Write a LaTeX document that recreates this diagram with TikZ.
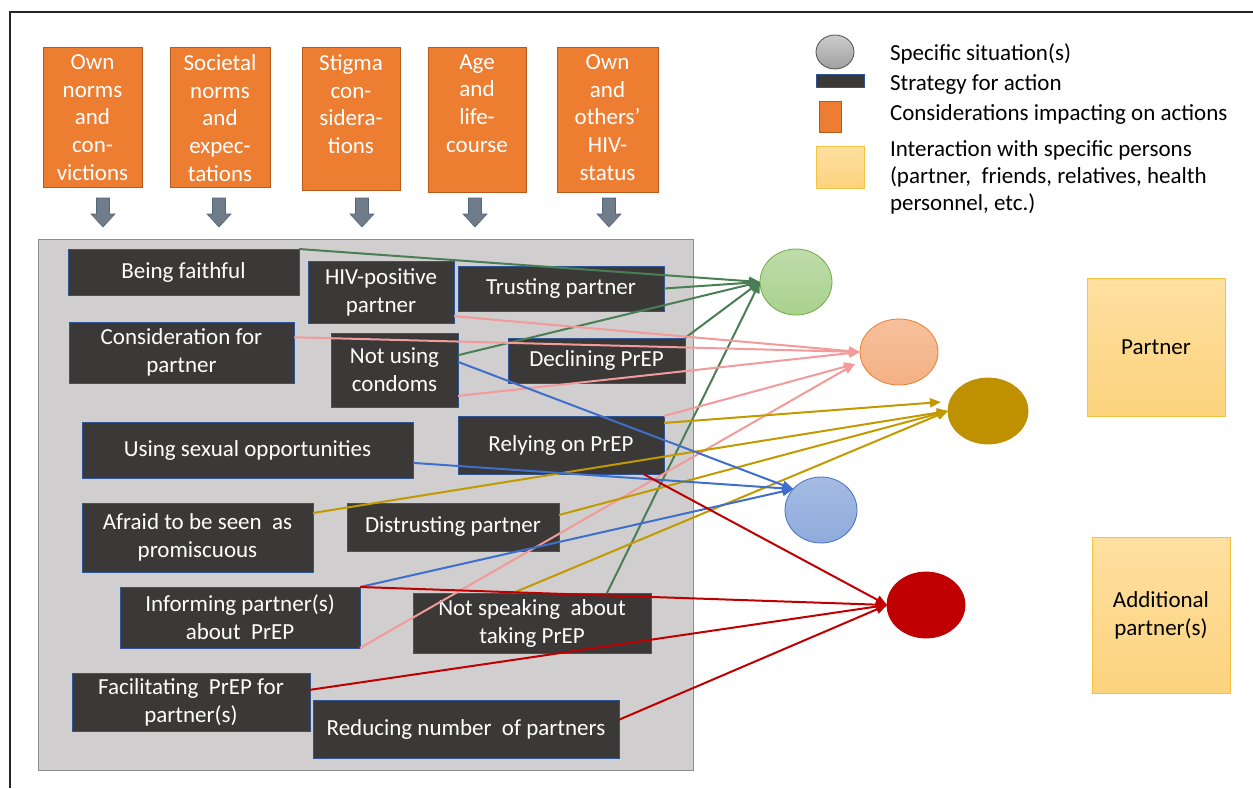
\documentclass[tikz,border=0pt]{standalone}
\usepackage{fontspec}
\setmainfont{Carlito}
\usetikzlibrary{arrows.meta,calc,shapes.geometric}
\definecolor{orng}{HTML}{ED7D31}
\definecolor{orngd}{HTML}{B85A1E}
\definecolor{dkbox}{HTML}{3B3838}
\definecolor{dkedge}{HTML}{2F5597}
\definecolor{panelc}{HTML}{D0CECE}
\definecolor{paneledge}{HTML}{8C8C8C}
\definecolor{cgreen}{HTML}{A9D18E}
\definecolor{cgreenE}{HTML}{70AD47}
\definecolor{csalmon}{HTML}{F4B183}
\definecolor{csalmonE}{HTML}{ED7D31}
\definecolor{cgold}{HTML}{BF9000}
\definecolor{cblue}{HTML}{8FAADC}
\definecolor{cblueE}{HTML}{4472C4}
\definecolor{cred}{HTML}{C00000}
\definecolor{ylwT}{HTML}{FFE0A0}
\definecolor{ylwB}{HTML}{FCD37E}
\definecolor{ylwE}{HTML}{F5C242}
\definecolor{agreen}{HTML}{4A7F55}
\definecolor{apink}{HTML}{F39A9A}
\definecolor{agold}{HTML}{C29A00}
\definecolor{ablue}{HTML}{3F6FCC}
\definecolor{ared}{HTML}{C00000}
\definecolor{darr}{HTML}{6F7C8A}
\definecolor{darrE}{HTML}{55657A}
\begin{document}
\begin{tikzpicture}[x=1pt,y=-1pt,
  every node/.style={inner sep=0pt, outer sep=0pt},
  consid/.style={rectangle, fill=orng, draw=orngd, line width=0.8pt, text=white,
    font=\fontsize{23}{27.7}\selectfont},
  strat/.style={rectangle, fill=dkbox, draw=dkedge, line width=0.8pt, text=white,
    align=center, font=\fontsize{23}{28}\selectfont},
  situ/.style={ellipse, minimum height=66pt, line width=0.8pt},
  person/.style={rectangle, top color=ylwT, bottom color=ylwB, draw=ylwE, line width=0.8pt,
    align=center, font=\fontsize{23}{28}\selectfont},
  legtext/.style={anchor=base west, font=\fontsize{23}{28}\selectfont},
  panelbox/.style={rectangle, fill=panelc, draw=paneledge, line width=0.8pt},
  downarrow/.style={fill=darr, draw=darrE, line width=0.6pt},
  link/.style={line width=2pt, -{Triangle[length=11pt,width=9pt]}},
  gl/.style={link, draw=agreen, fill=agreen},
  pl/.style={link, draw=apink, fill=apink},
  yl/.style={link, draw=agold, fill=agold},
  bl/.style={link, draw=ablue, fill=ablue},
  rl/.style={link, draw=ared, fill=ared},
]
\useasboundingbox (0,0) rectangle (1253,788);
\fill[white] (0,0) rectangle (1253,788);
\draw[line width=1.2pt, black!85] (10,788) -- (10,12) -- (1253,12);

% considerations (orange)
\node[consid, minimum width=99pt, minimum height=140pt] (o1) at (92.5,117)
  {\begin{minipage}[c][125pt][t]{97pt}\centering Own\\norms\\and\\con-\\victions\end{minipage}};
\node[consid, minimum width=100pt, minimum height=140pt] (o2) at (220,117)
  {\begin{minipage}[c][125pt][t]{98pt}\centering Societal\\norms\\and\\expec-\\tations\end{minipage}};
\node[consid, minimum width=98pt, minimum height=143pt] (o3) at (351,118.5)
  {\begin{minipage}[c][128pt][t]{96pt}\centering Stigma\\con-\\sidera-\\tions\end{minipage}};
\node[consid, minimum width=98pt, minimum height=145pt] (o4) at (477,119.5)
  {\begin{minipage}[c][130pt][t]{96pt}\centering Age\\and\\life-\\course\end{minipage}};
\node[consid, minimum width=101pt, minimum height=145pt] (o5) at (607.5,119.5)
  {\begin{minipage}[c][130pt][t]{99pt}\centering Own\\and\\others'\\HIV-\\status\end{minipage}};

% block arrows
\foreach \ax in {103,219,362,475,609}
  \filldraw[downarrow] (\ax-6.5,198) -- (\ax+6.5,198) -- (\ax+6.5,214) -- (\ax+12,214)
    -- (\ax,227) -- (\ax-12,214) -- (\ax-6.5,214) -- cycle;

% panel
\node[panelbox, minimum width=655pt, minimum height=531pt] (panel) at (365.5,504.5) {};

% strategies
\node[strat, minimum width=231pt, minimum height=46pt] (bf) at (183.5,272) {Being faithful};
\node[strat, minimum width=146pt, minimum height=62pt] (hiv) at (381,292) {HIV-positive\\partner};
\node[strat, minimum width=206pt, minimum height=45pt] (tr) at (561,288.5) {Trusting partner};
\node[strat, minimum width=225pt, minimum height=61pt] (cf) at (181.5,352.5) {Consideration for\\partner};
\node[strat, minimum width=127pt, minimum height=74pt] (nuc) at (394.5,370) {Not using\\condoms};
\node[strat, minimum width=177pt, minimum height=45pt] (dp) at (596.5,360.5) {Declining PrEP};
\node[strat, minimum width=331pt, minimum height=56pt] (uso) at (247.5,450) {Using sexual opportunities};
\node[strat, minimum width=206pt, minimum height=58pt] (rp) at (561,445) {Relying on PrEP};
\node[strat, minimum width=231pt, minimum height=69pt] (af) at (197.5,537.5) {Afraid to be seen\ \ as\\promiscuous};
\node[strat, minimum width=212pt, minimum height=48pt] (dt) at (453,527) {Distrusting partner};
\node[strat, minimum width=240pt, minimum height=61pt] (inf) at (240,617.5) {Informing partner(s)\\about\ \ PrEP};
\node[strat, minimum width=238pt, minimum height=60pt] (ns) at (532,623) {Not speaking\ \ about\\taking PrEP};
\node[strat, minimum width=238pt, minimum height=58pt] (fac) at (191,702) {Facilitating\ \ PrEP for\\partner(s)};
\node[strat, minimum width=306pt, minimum height=58pt] (rdc) at (466,729) {Reducing number\ \ of partners};

% situations
\node[situ, minimum width=72pt, top color=cgreen!75!white, bottom color=cgreen, draw=cgreenE] (gc) at (796,282) {};
\node[situ, minimum width=78pt, top color=csalmon!80!white, bottom color=csalmon, draw=csalmonE] (sc) at (899,352) {};
\node[situ, minimum width=80pt, fill=cgold, draw=cgold] (goldc) at (988,411) {};
\node[situ, minimum width=72pt, top color=cblue!80!white, bottom color=cblue, draw=cblueE] (bc) at (821,510) {};
\node[situ, minimum width=78pt, fill=cred, draw=cred] (rc) at (926,605) {};

% persons
\node[person, minimum width=138pt, minimum height=138pt] (pa) at (1156,347) {Partner};
\node[person, minimum width=138pt, minimum height=156pt] (ad) at (1161,615) {Additional\\partner(s)};

% legend
\node[ellipse, minimum width=38pt, minimum height=34pt, top color=gray!40, bottom color=gray!75,
  draw=black!70, line width=0.8pt] (lgc) at (835,52) {};
\node[rectangle, fill=dkbox, draw=dkedge, line width=0.8pt, minimum width=48pt, minimum height=13pt] (lgs) at (840,80.5) {};
\node[consid, minimum width=22pt, minimum height=31pt] (lgo) at (830,116.5) {};
\node[person, minimum width=48pt, minimum height=42pt] (lgp) at (840,167) {};
\node[legtext] (t1) at (890,60) {Specific situation(s)};
\node[legtext] (t2) at (890,90) {Strategy for action};
\node[legtext] (t3) at (890,120) {Considerations impacting on actions};
\node[legtext] (t4) at (890,156) {Interaction with specific persons};
\node[legtext] (t5) at (890,183) {(partner,\ \ friends, relatives, health};
\node[legtext] (t6) at (890,210) {personnel, etc.)};

% target points
\coordinate (sT) at (855,364);
\coordinate (gA) at (941,402);

% green links
\draw[gl] (bf.north east) -- (gc.west);
\draw[gl] (tr.east) -- (gc.west);
\draw[gl] ($(nuc.north east)!0.3!(nuc.south east)$) -- (gc.west);
\draw[gl] (dp.north east) -- (gc.west);
\draw[gl] ($(ns.north west)!0.815!(ns.north east)$) -- (gc.west);
% pink links
\draw[pl] ($(hiv.north east)!0.89!(hiv.south east)$) -- (sc.west);
\draw[pl] ($(cf.north east)!0.25!(cf.south east)$) -- (sc.west);
\draw[pl] ($(nuc.north east)!0.85!(nuc.south east)$) -- (sc.west);
\draw[pl] (rp.north east) -- (sT);
\draw[pl] (inf.south east) -- (sT);
% gold links
\draw[yl] ($(rp.north east)!0.12!(rp.south east)$) -- (gA);
\draw[yl] ($(af.north east)!0.145!(af.south east)$) -- (goldc.west);
\draw[yl] ($(dt.north east)!0.25!(dt.south east)$) -- (goldc.west);
\draw[yl] ($(ns.north west)!0.42!(ns.north east)$) -- (goldc.west);
% blue links
\draw[bl] ($(nuc.north east)!0.39!(nuc.south east)$) -- (bc.143);
\draw[bl] ($(uso.north east)!0.73!(uso.south east)$) -- (bc.143);
\draw[bl] (inf.north east) -- (bc.143);
% red links
\draw[rl] ($(rp.south west)!0.9!(rp.south east)$) -- (rc.west);
\draw[rl] (inf.north east) -- (rc.west);
\draw[rl] ($(fac.north east)!0.29!(fac.south east)$) -- (rc.west);
\draw[rl] ($(rdc.north east)!0.34!(rdc.south east)$) -- (rc.west);
\end{tikzpicture}
\end{document}
